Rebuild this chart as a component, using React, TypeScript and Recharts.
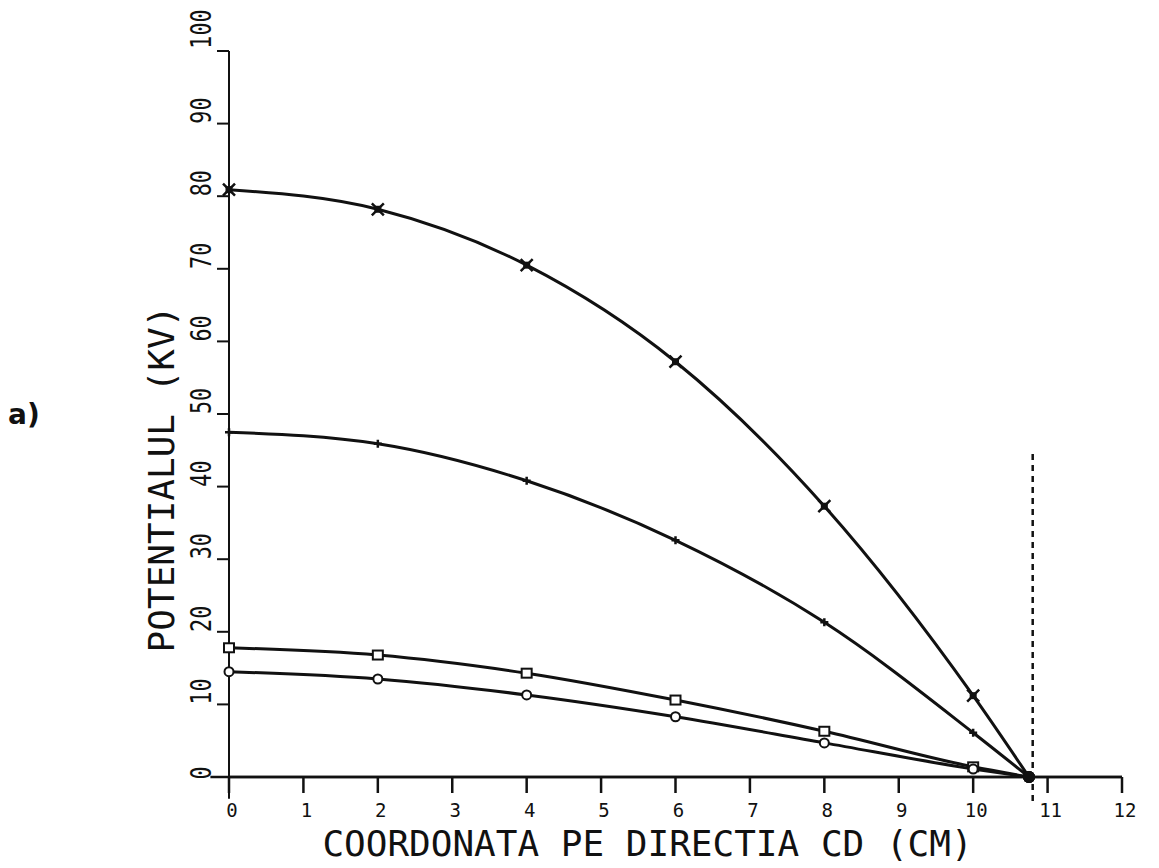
import React from 'react';
import { LineChart, Line, XAxis, YAxis, ReferenceLine } from 'recharts';

// coordinate along CD (cm) where the readings were taken
const positions = [0, 2, 4, 6, 8, 10, 10.75];

// potential (kV) for the four cases
const seriesCross = [80.9, 78.2, 70.5, 57.2, 37.3, 11.2, 0];
const seriesPlus = [47.5, 45.9, 40.8, 32.6, 21.3, 6.1, 0];
const seriesSquare = [17.8, 16.8, 14.3, 10.6, 6.3, 1.4, 0];
const seriesCircle = [14.5, 13.5, 11.3, 8.3, 4.7, 1.1, 0];

const xTicks = [0, 1, 2, 3, 4, 5, 6, 7, 8, 9, 10, 11, 12];
const yTicks = [0, 10, 20, 30, 40, 50, 60, 70, 80, 90, 100];

const boundaryX = 10.8;

const data = positions.map((x, i) => ({
  x,
  a: seriesCross[i],
  b: seriesPlus[i],
  c: seriesSquare[i],
  d: seriesCircle[i],
}));

const FONT = '"DejaVu Sans Mono", monospace';
const INK = '#111';

const makeDot = (shape: string) => (props: any) => {
  const { cx, cy, index } = props;
  const key = `${shape}-${index}`;
  if (cx == null || cy == null) return <g key={key} />;
  if (index === positions.length - 1) {
    return <circle key={key} cx={cx} cy={cy} r={6} fill={INK} />;
  }
  if (shape === 'cross') {
    return (
      <g key={key}>
        <rect x={cx - 3.5} y={cy - 3.5} width={7} height={7} fill={INK} />
        <path d={`M${cx - 6},${cy - 6}L${cx + 6},${cy + 6}M${cx + 6},${cy - 6}L${cx - 6},${cy + 6}`} stroke={INK} strokeWidth={2.5} />
      </g>
    );
  }
  if (shape === 'plus') {
    return (
      <path key={key} d={`M${cx - 4},${cy}L${cx + 4},${cy}M${cx},${cy - 4}L${cx},${cy + 4}`} stroke={INK} strokeWidth={2.5} />
    );
  }
  if (shape === 'square') {
    return <rect key={key} x={cx - 5} y={cy - 4.5} width={10} height={9} fill="#fff" stroke={INK} strokeWidth={2} />;
  }
  return <circle key={key} cx={cx} cy={cy} r={4.5} fill="#fff" stroke={INK} strokeWidth={2} />;
};

const YTick = (props: any) => {
  const { y, payload } = props;
  const cx = 201;
  const cy = payload.value === 0 ? y - 4 : payload.value === 100 ? y - 22 : y - 13;
  return (
    <g transform={`translate(${cx},${cy}) rotate(-90) scale(0.75,1)`}>
      <text x={0} y={0} textAnchor="middle" dominantBaseline="central" fontFamily={FONT} fontSize={29} fill={INK}>
        {payload.value}
      </text>
    </g>
  );
};

const XTick = (props: any) => {
  const { x, y, payload } = props;
  return (
    <text x={x + 3} y={y + 15} textAnchor="middle" dominantBaseline="central" fontFamily={FONT} fontSize={19} fill={INK}>
      {payload.value}
    </text>
  );
};

export default function App() {
  return (
    <div style={{ position: 'absolute', left: 0, top: 0, width: 1159, height: 868, background: '#fff' }}>
      <div style={{ position: 'absolute', left: 8, top: 398, fontFamily: 'DejaVu Sans', fontWeight: 'bold', fontSize: 28, color: INK }}>
        a)
      </div>
      <LineChart width={1159} height={868} data={data} margin={{ top: 51, right: 37, bottom: 31, left: 149 }}>
        <XAxis
          type="number"
          dataKey="x"
          domain={[0, 12]}
          ticks={xTicks}
          tick={<XTick />}
          tickSize={16}
          stroke={INK}
          strokeWidth={2.5}
          height={60}
          label={{ value: 'COORDONATA PE DIRECTIA CD (CM)', position: 'insideBottom', offset: -19, dx: -28, fontFamily: FONT, fontSize: 36, fill: INK }}
        />
        <YAxis
          type="number"
          domain={[0, 100]}
          ticks={yTicks}
          tick={<YTick />}
          tickSize={12}
          stroke={INK}
          strokeWidth={2}
          width={80}
          label={{ value: 'POTENTIALUL (KV)', angle: -90, position: 'center', dx: -28, dy: 65, fontFamily: FONT, fontSize: 36, fill: INK }}
        />
        <ReferenceLine segment={[{ x: -0.25, y: 0 }, { x: 12, y: 0 }]} stroke={INK} strokeWidth={2.5} ifOverflow="visible" />
        <ReferenceLine segment={[{ x: 0, y: -3 }, { x: 0, y: 0 }]} stroke={INK} strokeWidth={2} ifOverflow="visible" />
        <ReferenceLine
          segment={[{ x: boundaryX, y: 44.5 }, { x: boundaryX, y: -3.5 }]}
          stroke={INK}
          strokeWidth={2.5}
          strokeDasharray="6 5"
          ifOverflow="visible"
        />
        <Line type="monotone" dataKey="a" stroke={INK} strokeWidth={3} dot={makeDot('cross')} isAnimationActive={false} />
        <Line type="monotone" dataKey="b" stroke={INK} strokeWidth={3} dot={makeDot('plus')} isAnimationActive={false} />
        <Line type="monotone" dataKey="c" stroke={INK} strokeWidth={3} dot={makeDot('square')} isAnimationActive={false} />
        <Line type="monotone" dataKey="d" stroke={INK} strokeWidth={3} dot={makeDot('circle')} isAnimationActive={false} />
      </LineChart>
    </div>
  );
}
